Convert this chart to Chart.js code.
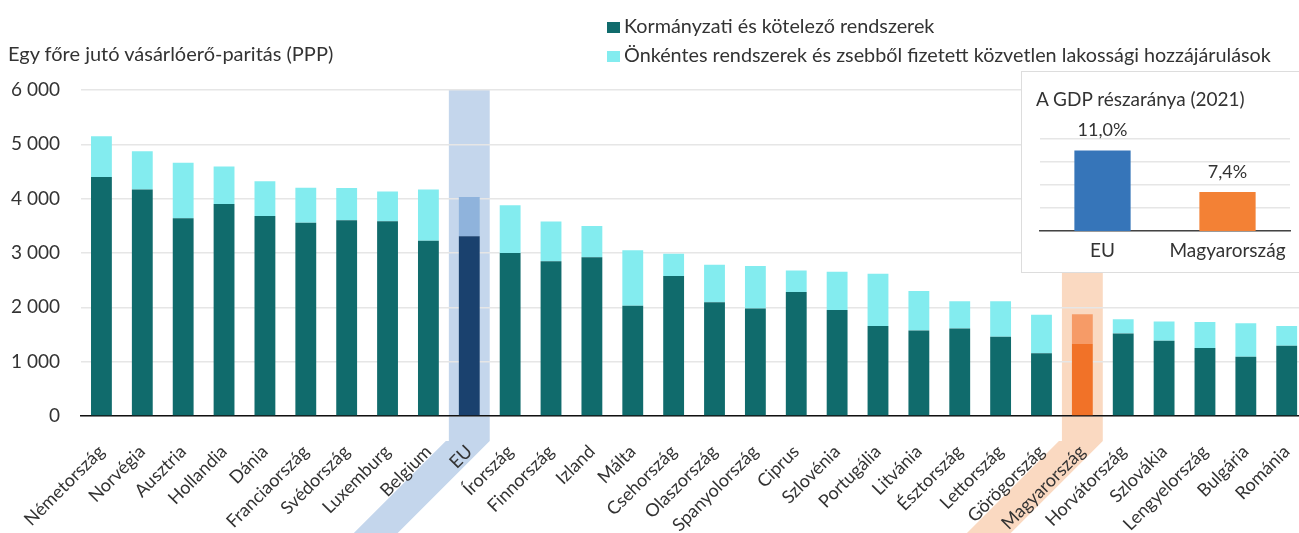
<!DOCTYPE html>
<html>
<head>
<meta charset="utf-8">
<script src="https://cdn.jsdelivr.net/npm/chart.js@4.4.0/dist/chart.umd.min.js"></script>
<style>
html, body { margin: 0; padding: 0; overflow: hidden; background: #fff; }
body { width: 1299px; height: 533px; position: relative; font-family: Lato, sans-serif; color: #333; }
#wrap { position: absolute; left: 0; top: 0; width: 1327px; height: 533px; }
#yTitle { position: absolute; left: 8px; top: 41px; font-size: 20px; line-height: 24px; }
#legend { position: absolute; left: 607px; top: 11px; font-size: 19.8px; line-height: 29px; white-space: nowrap; }
.li { height: 29px; }
.sw { display: inline-block; vertical-align: baseline; width: 13px; height: 11px; margin-right: 4px; }
#inset { position: absolute; left: 1021px; top: 71px; width: 300px; height: 200px; border: 1px solid #ddd; background: #fff; }
#insetTitle { position: absolute; left: 14px; top: 15px; font-size: 19px; line-height: 23px; }
#insetWrap { position: absolute; left: 0; top: 0; width: 290px; height: 200px; }
</style>
</head>
<body>
<div id="wrap"><canvas id="myChart"></canvas></div>
<div id="yTitle">Egy főre jutó vásárlóerő-paritás (PPP)</div>
<div id="legend">
  <div class="li"><span class="sw" style="background:#106b6c"></span>Kormányzati és kötelező rendszerek</div>
  <div class="li"><span class="sw" style="background:#83ecef"></span>Önkéntes rendszerek és zsebből fizetett közvetlen lakossági hozzájárulások</div>
</div>
<div id="inset">
  <div id="insetWrap"><canvas id="gdpChart"></canvas></div>
  <div id="insetTitle">A GDP részaránya (2021)</div>
</div>
<script>
var countries = ['Németország', 'Norvégia', 'Ausztria', 'Hollandia', 'Dánia', 'Franciaország', 'Svédország', 'Luxemburg', 'Belgium', 'EU',
    'Írország', 'Finnország', 'Izland', 'Málta', 'Csehország', 'Olaszország', 'Spanyolország', 'Ciprus', 'Szlovénia', 'Portugália',
    'Litvánia', 'Észtország', 'Lettország', 'Görögország', 'Magyarország', 'Horvátország', 'Szlovákia', 'Lengyelország', 'Bulgária', 'Románia'];
// kormanyzati es kotelezo rendszerek
var govValues = [4400, 4170, 3640, 3900, 3680, 3555, 3605, 3585, 3225, 3310,
    3000, 2850, 2920, 2030, 2575, 2095, 1980, 2280, 1950, 1655,
    1575, 1610, 1460, 1155, 1325, 1520, 1385, 1250, 1090, 1295];
// onkentes rendszerek es zsebbol fizetett
var volValues = [750, 705, 1020, 690, 640, 645, 590, 545, 945, 720,
    880, 730, 575, 1020, 410, 690, 780, 400, 705, 965,
    725, 500, 650, 710, 550, 260, 355, 480, 615, 360];
var yTicks = [0, 1000, 2000, 3000, 4000, 5000, 6000];

var gdpLabels = ['EU', 'Magyarország'];
var gdpShare = [11.0, 7.4];

var textColor = '#333';
var govColors = countries.map(function(c){
    if (c == 'EU') return '#1a416e';
    if (c == 'Magyarország') return '#f17228';
    return '#106b6c';
});
var volColors = countries.map(function(c){
    if (c == 'EU') return '#8fb3dc';
    if (c == 'Magyarország') return '#f69b67';
    return '#83ecef';
});
var bands = [
    {name: 'EU', color: '#c4d6ec'},
    {name: 'Magyarország', color: '#fad9c1'}
];

function spaceThousands(v){
    return String(v).replace(/\B(?=(\d{3})+(?!\d))/g, ' ');
}

//sav a kiemelt oszlopok mogott, a felirat iranyaban lefele
var bandPlugin = {
    id: 'bands',
    beforeDraw: function(chart){
        var ctx = chart.ctx, xs = chart.scales.x, area = chart.chartArea;
        var w = xs.width / countries.length;
        bands.forEach(function(b){
            var i = countries.indexOf(b.name);
            var cx = xs.getPixelForValue(i);
            var l = cx - w / 2, r = cx + w / 2;
            var yb = area.bottom + 25;
            var d = chart.height - yb;
            ctx.save();
            ctx.fillStyle = b.color;
            ctx.fillRect(l, area.top, w, yb - area.top);
            ctx.beginPath();
            ctx.moveTo(l - 3, yb);
            ctx.lineTo(r, yb);
            ctx.lineTo(r - d, chart.height);
            ctx.lineTo(l - 3 - d, chart.height);
            ctx.closePath();
            ctx.fill();
            ctx.restore();
        });
    }
};

var ctx = document.getElementById('myChart').getContext('2d');
var myChart = new Chart(ctx, {
    type: 'bar',
    data: {
        labels: countries,
        datasets: [{
            label: 'Kormányzati és kötelező rendszerek',
            data: govValues,
            backgroundColor: govColors,
            borderWidth: 0
        }, {
            label: 'Önkéntes rendszerek és zsebből fizetett közvetlen lakossági hozzájárulások',
            data: volValues,
            backgroundColor: volColors,
            borderWidth: 0
        }]
    },
    options: {
        responsive: true,
        maintainAspectRatio: false,
        animation: false,
        categoryPercentage: 1,
        barPercentage: 0.51,
        layout: { padding: { top: 90, right: 1, left: 0, bottom: 0 } },
        scales: {
            x: {
                stacked: true,
                grid: { display: false, drawTicks: false },
                border: { display: true, color: '#111', width: 1.5 },
                ticks: {
                    color: textColor,
                    font: { family: 'Lato', size: 18 },
                    maxRotation: 45,
                    minRotation: 45,
                    autoSkip: false,
                    padding: 25
                },
                afterFit: function(scale){ scale.height = 117; }
            },
            y: {
                stacked: true,
                min: 0,
                max: 6000,
                grid: { color: '#e6e6e6', lineWidth: 1.5, drawTicks: false },
                border: { display: false },
                afterBuildTicks: function(scale){
                    scale.ticks = yTicks.map(function(v){ return {value: v}; });
                },
                ticks: {
                    color: textColor,
                    font: { family: 'Lato', size: 19 },
                    padding: 21,
                    callback: function(v){ return spaceThousands(v); }
                },
                afterFit: function(scale){ scale.width = 81; }
            }
        },
        plugins: {
            legend: { display: false },
            tooltip: { enabled: false }
        }
    },
    plugins: [bandPlugin]
});

//ertekek a kis diagram oszlopai felett
var valueLabels = {
    id: 'valueLabels',
    afterDatasetsDraw: function(chart){
        var c = chart.ctx;
        var meta = chart.getDatasetMeta(0);
        c.save();
        c.fillStyle = textColor;
        c.font = '18px Lato';
        c.textAlign = 'center';
        c.textBaseline = 'bottom';
        meta.data.forEach(function(bar, i){
            c.fillText(gdpShare[i].toFixed(1).replace('.', ',') + '%', bar.x, bar.y - 11);
        });
        c.restore();
    }
};

var gdpChart = new Chart(document.getElementById('gdpChart').getContext('2d'), {
    type: 'bar',
    data: {
        labels: gdpLabels,
        datasets: [{
            data: gdpShare,
            backgroundColor: ['#3675b9', '#f38135'],
            borderWidth: 0
        }]
    },
    options: {
        responsive: true,
        maintainAspectRatio: false,
        animation: false,
        categoryPercentage: 1,
        barPercentage: 0.45,
        layout: { padding: { top: 67, left: 18, right: 22, bottom: 0 } },
        scales: {
            x: {
                grid: { display: false, drawTicks: false },
                border: { display: true, color: '#444', width: 1.5 },
                ticks: { color: textColor, font: { family: 'Lato', size: 19 }, padding: 8 },
                afterFit: function(scale){ scale.height = 41; }
            },
            y: {
                min: 4,
                max: 12,
                ticks: { display: false, stepSize: 2 },
                grid: { color: '#e6e6e6', lineWidth: 1.5, drawTicks: false },
                border: { display: false },
                afterFit: function(scale){ scale.width = 0; }
            }
        },
        plugins: {
            legend: { display: false },
            tooltip: { enabled: false }
        }
    },
    plugins: [valueLabels]
});
</script>
</body>
</html>
